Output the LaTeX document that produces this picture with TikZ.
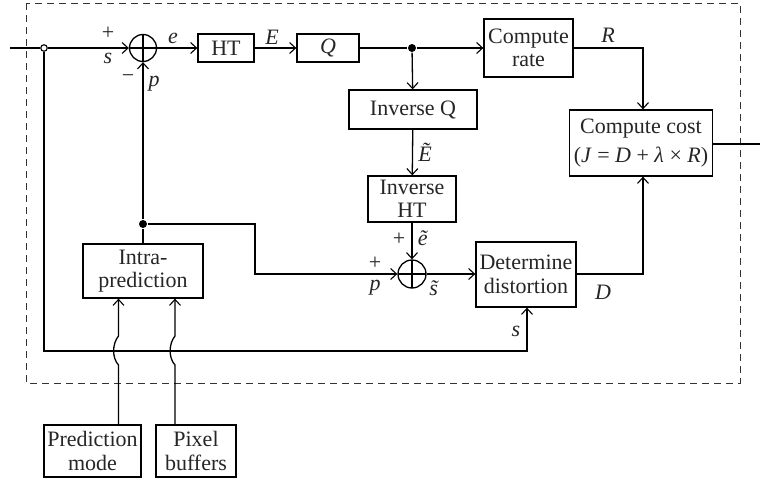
\documentclass[tikz,border=0pt]{standalone}
\usepackage{fontspec}
\setmainfont{Liberation Serif}
\usetikzlibrary{arrows.meta,calc}
\begin{document}
\begin{tikzpicture}[x=1pt,y=-1pt,
  font=\fontsize{22}{23.5}\selectfont,
  line width=1.3pt,
  every node/.style={line width=1.3pt},
  blk/.style={draw, align=center, inner sep=0pt, text=black!85},
  arr/.style={-{Straight Barb[length=6pt,width=11pt,line width=1.1pt]}},
  summer/.style={draw, circle, minimum size=27pt, inner sep=0pt,
    path picture={\draw[line width=1.3pt] (path picture bounding box.north) -- (path picture bounding box.south)
      (path picture bounding box.west) -- (path picture bounding box.east);}},
  dotn/.style={circle, fill, inner sep=0pt, minimum size=8pt},
  opend/.style={circle, draw, fill=white, inner sep=0pt, minimum size=6.5pt, line width=1.1pt},
  lbl/.style={inner sep=0pt, text=black!85}]
\useasboundingbox (0,0) rectangle (760,482);
\draw[dashed, line width=1pt, dash pattern=on 7pt off 5pt, black!80] (26,3) rectangle (740,383);

% blocks
\node[blk, minimum width=56pt, minimum height=28pt] (ht) at (226,48) {HT};
\node[blk, minimum width=62pt, minimum height=28pt] (q) at (328,48) {\textit{Q}};
\node[blk, minimum width=89pt, minimum height=58pt] (rate) at (528.5,48) {Compute\\rate};
\node[blk, minimum width=128pt, minimum height=39pt] (iq) at (413,109.5) {Inverse Q};
\node[blk, minimum width=88pt, minimum height=46pt] (iht) at (412,199) {Inverse\\HT};
\node[blk, minimum width=143pt, minimum height=66pt] (cost) at (641,143) {Compute cost\\[5pt](\textit{J} = \textit{D} + \textit{λ} × \textit{R})};
\node[blk, minimum width=100pt, minimum height=65pt] (dist) at (526,274.5) {Determine\\distortion};
\node[blk, minimum width=120pt, minimum height=54pt] (intra) at (143,271) {Intra-\\prediction};
\node[blk, minimum width=97pt, minimum height=52pt] (pmode) at (92.5,451) {Prediction\\mode};
\node[blk, minimum width=80pt, minimum height=52pt] (pbuf) at (196,451) {Pixel\\buffers};

\node[summer] (s1) at (143,48) {};
\node[summer, minimum size=28pt] (s2) at (412,274) {};

\coordinate (in) at (10,48);
\node[opend] (j0) at (44,48) {};
\node[dotn] (j1) at (412,48) {};
\node[dotn] (j2) at (143,224) {};
\coordinate (out) at (760,144);

% main path
\draw (in) -- (j0);
\draw[arr] (j0) -- (s1);
\draw[arr] (s1) -- (ht);
\draw[arr] (ht) -- (q);
\draw (q) -- (j1);
\draw[arr] (j1) -- (rate);
\draw[arr] (j1) -- (iq);
\draw[arr] (iq) -- (iht);
\draw[arr] (iht) -- (s2);
\draw[arr] (rate.east) -| (cost.north -| 643,0);
\draw (cost.east |- out) -- (out);
\draw[arr] (s2) -- (dist.west |- s2);
\draw[arr] (dist.east |- 0,274) -| (cost.south -| 643,0);

% prediction feedback
\draw (intra.north) -- (j2);
\draw[arr] (j2) -- (s1);
\draw[arr] (j2) -| (255,274) -- (s2);

% source to distortion
\draw[arr] (j0) |- (527,351) -- (dist.south -| 527,0);

% hops
\draw[arr] (pmode.north -| 118.5,0) -- (118.5,365) .. controls (112,358) and (112,344) .. (118.5,336) -- (intra.south -| 118.5,0);
\draw[arr] (pbuf.north -| 175,0) -- (175,365) .. controls (168.5,358) and (168.5,344) .. (175,336) -- (intra.south -| 175,0);

% labels
\node[lbl] (lplus1) at (108,33) {+};
\node[lbl] (ls1) at (108,58) {\textit{s}};
\node[lbl] (lminus1) at (128,79) {−};
\node[lbl] (lp1) at (154,84) {\textit{p}};
\node[lbl] (le) at (173,38) {\textit{e}};
\node[lbl] (lE) at (272,37) {\textit{E}};
\node[lbl] (lR) at (608,35) {\textit{R}};
\node[lbl] (lEt) at (425,152) {\textit{Ẽ}};
\node[lbl] (lplus2) at (399,239) {+};
\node[lbl] (let) at (423,238) {\textit{ẽ}};
\node[lbl] (lplus3) at (375,263) {+};
\node[lbl] (lp2) at (375,288) {\textit{p}};
\node[lbl] (lst) at (438,288) {\textit{s̃}};
\node[lbl] (lD) at (603,292) {\textit{D}};
\node[lbl] (ls2) at (516,331) {\textit{s}};
\end{tikzpicture}
\end{document}
